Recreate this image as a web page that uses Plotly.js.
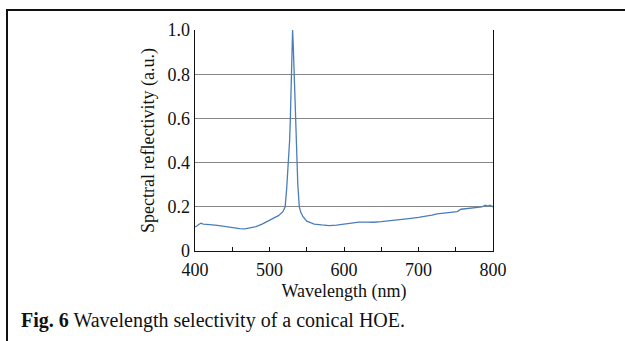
<!DOCTYPE html>
<html>
<head>
<meta charset="utf-8">
<script src="https://cdn.plot.ly/plotly-3.0.1.min.js"></script>
<style>
  html, body { margin: 0; padding: 0; background: #fff; }
  #wrap { position: relative; width: 625px; height: 341px; overflow: hidden; }
  #chart { width: 625px; height: 341px; }
  #frame { position: absolute; left: 6px; top: 9px; width: 700px; height: 400px;
           border-top: 2px solid #111; border-left: 2px solid #111; pointer-events: none; }
</style>
</head>
<body>
<div id="wrap">
  <div id="chart"></div>
  <div id="frame"></div>
</div>
<script>
// Data
const wavelength = [400, 402, 405, 408, 411, 415, 420, 430, 440, 450, 460, 467, 475, 482, 490, 497, 505, 512, 518,
  521, 523, 525, 526, 527, 528, 529, 530, 531, 532, 533, 534, 535, 536.5, 538, 540, 542, 545,
  550, 555, 560, 570, 580, 590, 600, 610, 620, 630, 640, 650, 660, 670, 680, 690, 700, 710, 718,
  725, 735, 745, 752, 757, 765, 775, 785, 790, 793, 796, 800];
const reflectivity = [0.110, 0.112, 0.120, 0.126, 0.122, 0.120, 0.119, 0.116, 0.110, 0.105, 0.101, 0.100, 0.104, 0.110, 0.122, 0.133, 0.146, 0.160, 0.178,
  0.200, 0.280, 0.370, 0.420, 0.500, 0.600, 0.740, 0.880, 1.000, 0.920, 0.800, 0.680, 0.550, 0.400, 0.300, 0.200, 0.175, 0.155,
  0.135, 0.128, 0.122, 0.118, 0.115, 0.117, 0.121, 0.128, 0.131, 0.131, 0.130, 0.133, 0.136, 0.141, 0.145, 0.148, 0.152, 0.156, 0.162,
  0.168, 0.172, 0.176, 0.178, 0.189, 0.192, 0.196, 0.200, 0.207, 0.203, 0.207, 0.200];
const xTickVals = [400, 450, 500, 550, 600, 650, 700, 750, 800];
const xTickText = ['400', '', '500', '', '600', '', '700', '', '800'];
const yTickVals = [0, 0.2, 0.4, 0.6, 0.8, 1.0];
const yTickText = ['0', '0.2', '0.4', '0.6', '0.8', '1.0'];

const serif = 'Liberation Serif, Times New Roman, serif';

const trace = {
  x: wavelength, y: reflectivity, type: 'scatter', mode: 'lines',
  line: { color: '#4a7ebb', width: 1.3 }, hoverinfo: 'skip'
};

const layout = {
  width: 625, height: 341,
  margin: { l: 195, r: 132, t: 30, b: 90, pad: 0 },
  paper_bgcolor: 'rgba(0,0,0,0)', plot_bgcolor: '#fff',
  showlegend: false,
  font: { family: serif, size: 18, color: '#111' },
  xaxis: {
    range: [400, 800], tickmode: 'array', tickvals: xTickVals, ticktext: xTickText,
    ticks: 'inside', ticklen: 4, tickwidth: 1, tickcolor: '#111',
    showline: true, linecolor: '#111', linewidth: 1.3, mirror: false,
    showgrid: false, zeroline: false, ticklabelstandoff: 2,
    tickfont: { family: serif, size: 18, color: '#111' },
    title: { text: 'Wavelength (nm)', font: { family: serif, size: 18, color: '#111' }, standoff: 5 }
  },
  yaxis: {
    range: [0, 1], tickmode: 'array', tickvals: yTickVals, ticktext: yTickText,
    ticks: '', showline: true, linecolor: '#111', linewidth: 1.3, mirror: true,
    showgrid: true, gridcolor: '#868686', gridwidth: 1, zeroline: false,
    tickfont: { family: serif, size: 18, color: '#111' },
    title: { text: 'Spectral reflectivity (a.u.)', font: { family: serif, size: 18, color: '#111' }, standoff: 8 }
  },
  annotations: [{
    xref: 'paper', yref: 'paper', x: -0.59, y: -0.315, xanchor: 'left', yanchor: 'middle',
    text: '<b>Fig. 6</b> Wavelength selectivity of a conical HOE.', showarrow: false,
    font: { family: serif, size: 20, color: '#111' }
  }]
};

Plotly.newPlot('chart', [trace], layout, { staticPlot: true, displayModeBar: false });
</script>
</body>
</html>
